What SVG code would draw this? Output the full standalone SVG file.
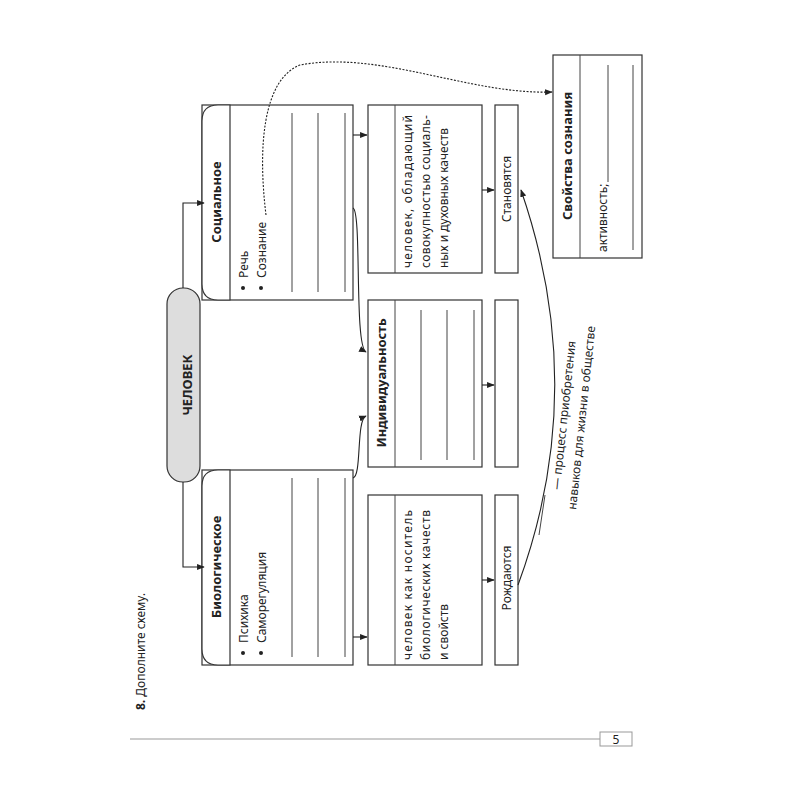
<svg xmlns="http://www.w3.org/2000/svg" width="800" height="800" viewBox="0 0 800 800">
<defs>
<marker id="ar" viewBox="0 0 10 10" refX="9" refY="5" markerWidth="7" markerHeight="7" orient="auto"><path d="M0,1 L10,5 L0,9 z" fill="#222"/></marker>
</defs>
<style>
.b{fill:#fff;stroke:#333;stroke-width:1.2}
.ln{stroke:#444;stroke-width:1}
.c{fill:none;stroke:#222;stroke-width:1.1}
text{font-family:"Noto Sans","Open Sans","DejaVu Sans",sans-serif;fill:#222;font-size:12px}
.t{font-weight:bold;font-size:13px}
</style>
<rect width="800" height="800" fill="#fff"/>
<g id="page">
<line x1="130" y1="739" x2="600" y2="739" stroke="#999" stroke-width="1.2"/>
<rect x="600" y="732" width="32" height="14" fill="#fff" stroke="#999"/>
<text x="616" y="744" text-anchor="middle" font-size="12">5</text>
<text transform="translate(145,710) rotate(-90)" font-size="13"><tspan font-weight="bold">8.</tspan> Дополните схему.</text>
</g>
<g id="chelovek">
<rect x="167" y="288" width="33" height="194" rx="16" fill="#ddd" stroke="#333" stroke-width="1.2"/>
<text class="t" transform="translate(192,385) rotate(-90)" text-anchor="middle" font-size="19">ЧЕЛОВЕК</text>
</g>
<g id="bio">
<rect class="b" x="202" y="470" width="151" height="195"/>
<path class="b" d="M230,470 H218 Q202,470 202,486 V649 Q202,665 218,665 H230 Z"/>
<text class="t" transform="translate(221,567) rotate(-90)" text-anchor="middle">Биологическое</text>
<circle cx="243" cy="653" r="2" fill="#222"/><circle cx="261" cy="653" r="2" fill="#222"/>
<text transform="translate(248,643) rotate(-90)">Психика</text>
<text transform="translate(266,643) rotate(-90)">Саморегуляция</text>
<line class="ln" x1="292" y1="657" x2="292" y2="478"/>
<line class="ln" x1="318" y1="657" x2="318" y2="478"/>
<line class="ln" x1="345" y1="657" x2="345" y2="478"/>
</g>
<g id="soc">
<rect class="b" x="202" y="105" width="151" height="195"/>
<path class="b" d="M230,105 H218 Q202,105 202,121 V284 Q202,300 218,300 H230 Z"/>
<text class="t" transform="translate(221,202) rotate(-90)" text-anchor="middle">Социальное</text>
<circle cx="243" cy="288" r="2" fill="#222"/><circle cx="261" cy="288" r="2" fill="#222"/>
<text transform="translate(248,278) rotate(-90)">Речь</text>
<text transform="translate(266,278) rotate(-90)">Сознание</text>
<line class="ln" x1="292" y1="292" x2="292" y2="113"/>
<line class="ln" x1="318" y1="292" x2="318" y2="113"/>
<line class="ln" x1="345" y1="292" x2="345" y2="113"/>
</g>
<g id="bioDef">
<rect class="b" x="368" y="495" width="114" height="170"/>
<line class="ln" x1="395" y1="495" x2="395" y2="665"/>
<text transform="translate(412,660) rotate(-90)" textLength="150">человек как носитель</text>
<text transform="translate(430,660) rotate(-90)" textLength="150">биологических качеств</text>
<text transform="translate(448,660) rotate(-90)">и свойств</text>
</g>
<g id="indiv">
<rect class="b" x="368" y="300" width="114" height="167"/>
<line class="ln" x1="395" y1="300" x2="395" y2="467"/>
<text class="t" transform="translate(386,383) rotate(-90)" text-anchor="middle">Индивидуальность</text>
<line class="ln" x1="421" y1="310" x2="421" y2="460"/>
<line class="ln" x1="447" y1="310" x2="447" y2="460"/>
<line class="ln" x1="474" y1="310" x2="474" y2="460"/>
</g>
<g id="socDef">
<rect class="b" x="368" y="105" width="114" height="168"/>
<line class="ln" x1="395" y1="105" x2="395" y2="273"/>
<text transform="translate(412,268) rotate(-90)" textLength="153">человек, обладающий</text>
<text transform="translate(430,268) rotate(-90)" textLength="153">совокупностью социаль-</text>
<text transform="translate(448,268) rotate(-90)">ных и духовных качеств</text>
</g>
<g id="rozhd">
<rect class="b" x="495" y="495" width="23" height="170"/>
<text transform="translate(511,578) rotate(-90)" text-anchor="middle">Рождаются</text>
</g>
<g id="mid">
<rect class="b" x="495" y="300" width="23" height="167"/>
</g>
<g id="stan">
<rect class="b" x="495" y="105" width="23" height="168"/>
<text transform="translate(511,189) rotate(-90)" text-anchor="middle">Становятся</text>
</g>
<g id="svoistva">
<rect class="b" x="553" y="55" width="89" height="203"/>
<line class="ln" x1="580" y1="55" x2="580" y2="258"/>
<text class="t" transform="translate(572,156) rotate(-90)" text-anchor="middle">Свойства сознания</text>
<text transform="translate(607,252) rotate(-90)">активность;</text>
<line class="ln" x1="608" y1="65" x2="608" y2="182"/>
<line class="ln" x1="633" y1="65" x2="633" y2="250"/>
</g>
<g id="connectors">
<path class="c" d="M183,482 V567 H204" marker-end="url(#ar)"/>
<path class="c" d="M183,288 V203 H204" marker-end="url(#ar)"/>
<path class="c" d="M353,637 H367" marker-end="url(#ar)"/>
<path class="c" d="M353,135 H367" marker-end="url(#ar)"/>
<path class="c" d="M482,580 H494" marker-end="url(#ar)"/>
<path class="c" d="M482,385 H494" marker-end="url(#ar)"/>
<path class="c" d="M482,190 H494" marker-end="url(#ar)"/>
<path class="c" d="M353,478 C362,476 356,420 366,416" marker-end="url(#ar)"/>
<path class="c" d="M353,208 C362,212 354,346 366,352" marker-end="url(#ar)"/>
<path class="c" d="M266,215 C258,150 262,80 300,65 C380,50 470,95 552,92" stroke-dasharray="2,1.5" marker-end="url(#ar)"/>
<path class="c" d="M518,585 Q590,390 521,190" marker-end="url(#ar)"/>
</g>
<g id="label">
<line class="ln" x1="539" y1="535" x2="545" y2="495"/>
<text transform="translate(560,490) rotate(-84)">— процесс приобретения</text>
<text transform="translate(576,510) rotate(-84)">навыков для жизни в обществе</text>
</g>
</svg>
